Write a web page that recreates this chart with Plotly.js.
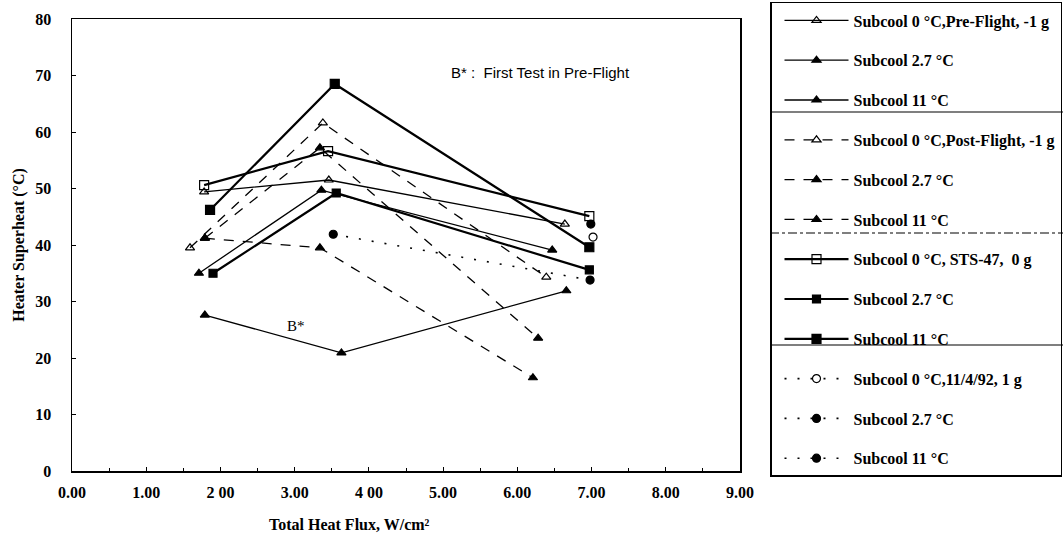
<!DOCTYPE html>
<html>
<head>
<meta charset="utf-8">
<script src="https://cdn.plot.ly/plotly-3.0.1.min.js"></script>
<style>html,body{margin:0;padding:0;background:#fff;}#chart{width:1063px;height:539px;}</style>
</head>
<body>
<div id="chart"></div>
<script>
// Data (x: total heat flux W/cm², y: heater superheat °C)
const preX0 = [1.78, 3.46, 6.64],  preY0 = [49.4, 51.5, 43.7];
const preX27 = [1.71, 3.36, 6.47], preY27 = [35.0, 49.7, 39.1];
const preX11 = [1.79, 3.63, 6.66], preY11 = [27.6, 20.9, 31.9];
const postX0 = [1.59, 3.38, 6.39], postY0 = [39.5, 61.6, 34.3];
const postX27 = [1.79, 3.34, 6.28], postY27 = [41.2, 57.2, 23.5];
const postX11 = [1.79, 3.34, 6.21], postY11 = [41.2, 39.5, 16.5];
const stsX0 = [1.78, 3.45, 6.97],  stsY0 = [50.6, 56.6, 45.1];
const stsX27 = [1.90, 3.56, 6.97], stsY27 = [35.0, 49.2, 35.6];
const stsX11 = [1.86, 3.54, 6.97], stsY11 = [46.2, 68.5, 39.6];
const gX0 = [7.02], gY0 = [41.4];
const gX27 = [3.52, 6.98], gY27 = [41.9, 33.8];
const gX11 = [6.99], gY11 = [43.7];

const names = [
  "Subcool 0 °C,Pre-Flight, -1 g", "Subcool 2.7 °C", "Subcool 11 °C",
  "Subcool 0 °C,Post-Flight, -1 g", "Subcool 2.7 °C", "Subcool 11 °C",
  "Subcool 0 °C, STS-47,  0 g", "Subcool 2.7 °C", "Subcool 11 °C",
  "Subcool 0 °C,11/4/92, 1 g", "Subcool 2.7 °C", "Subcool 11 °C"
];
const xTickVals = [0,1,2,3,4,5,6,7,8,9];
const xTickText = ["0.00","1.00","2 00","3.00","4 00","5.00","6.00","7.00","8.00","9.00"];

const serif = "Liberation Serif";
function tr(i, x, y, dash, width, symbol, msize) {
  return {
    type: "scatter", mode: "lines+markers", x: x, y: y, name: names[i],
    legendgroup: "g" + i,
    line: {color: "#000", width: width, dash: dash},
    marker: {symbol: symbol, size: msize, color: "#000", line: {color: "#000", width: 1.2}}
  };
}
const dashed = "10px,9px";
const dotted = "2px,11px";
const data = [
  tr(0, preX0, preY0, "solid", 1.3, "triangle-up-open", 8),
  tr(1, preX27, preY27, "solid", 1.3, "triangle-up", 8),
  tr(2, preX11, preY11, "solid", 1.3, "triangle-up", 8),
  tr(3, postX0, postY0, dashed, 1.3, "triangle-up-open", 8),
  tr(4, postX27, postY27, dashed, 1.3, "triangle-up", 8),
  tr(5, postX11, postY11, dashed, 1.3, "triangle-up", 8),
  tr(6, stsX0, stsY0, "solid", 2.2, "square-open", 9),
  tr(7, stsX27, stsY27, "solid", 2.2, "square", 8),
  tr(8, stsX11, stsY11, "solid", 2.2, "square", 9),
  tr(9, gX0, gY0, dotted, 1.6, "circle-open", 8),
  tr(10, gX27, gY27, dotted, 1.6, "circle", 8),
  tr(11, gX11, gY11, dotted, 1.6, "circle", 8)
];

// paper: x 72..1063 (991 px), y 0..471 (471 px)
const layout = {
  width: 1063, height: 539,
  margin: {l: 72, r: 0, t: 0, b: 68},
  paper_bgcolor: "#fff", plot_bgcolor: "#fff",
  font: {family: serif, color: "#000", size: 16},
  showlegend: true,
  legend: {
    x: 0.70434, y: 0.9958, xanchor: "left", yanchor: "top",
    traceorder: "grouped", tracegroupgap: 16,
    bgcolor: "rgba(0,0,0,0)",
    bordercolor: "#000", borderwidth: 1.5,
    font: {family: serif, size: 16, color: "#000", weight: "bold"},
    itemwidth: 64, indentation: 8, maxheight: 539
  },
  xaxis: {
    domain: [0, 0.67407],
    range: [0, 9], tickvals: xTickVals, ticktext: xTickText,
    showline: true, linecolor: "#000", linewidth: 1.5, mirror: true,
    showgrid: false, zeroline: false,
    ticks: "inside", ticklen: 4, tickcolor: "#000",
    minor: {dtick: 0.5, ticks: "inside", ticklen: 3, tickcolor: "#000"},
    tickfont: {family: serif, size: 16, weight: "bold"},
    ticklabelstandoff: 6
  },
  yaxis: {
    domain: [0, 0.95966],
    range: [0, 80], dtick: 10,
    showline: true, linecolor: "#000", linewidth: 1.5, mirror: true,
    showgrid: false, zeroline: false,
    ticks: "inside", ticklen: 4, tickcolor: "#000",
    tickfont: {family: serif, size: 16, weight: "bold"},
    ticklabelstandoff: 16,
    title: {text: "Heater Superheat (°C)", font: {family: serif, size: 16, weight: "bold"}, standoff: 6}
  },
  annotations: [
    {xref: "paper", yref: "paper", x: 0.2805, y: -0.1146, xanchor: "center", yanchor: "middle",
     text: "Total Heat Flux, W/cm²", showarrow: false, font: {family: serif, size: 16, weight: "bold"}},
    {xref: "x", yref: "y", x: 5.08, y: 70.6, xanchor: "left", yanchor: "middle",
     text: "B* :  First Test in Pre-Flight", showarrow: false, font: {family: "Liberation Sans", size: 15}},
    {xref: "x", yref: "y", x: 2.87, y: 25.6, xanchor: "left", yanchor: "middle",
     text: "B*", showarrow: false, font: {family: serif, size: 15}}
  ],
  shapes: [
    {type: "line", xref: "paper", yref: "paper", x0: 0.70434, x1: 1, y0: 0.7622, y1: 0.7622, line: {color: "#000", width: 1.2}},
    {type: "line", xref: "paper", yref: "paper", x0: 0.70434, x1: 1, y0: 0.5053, y1: 0.5053, line: {color: "#000", width: 1.2, dash: "dashdot"}},
    {type: "line", xref: "paper", yref: "paper", x0: 0.70434, x1: 1, y0: 0.2675, y1: 0.2675, line: {color: "#000", width: 1.2}}
  ]
};
Plotly.newPlot("chart", data, layout, {staticPlot: true});
</script>
</body>
</html>
